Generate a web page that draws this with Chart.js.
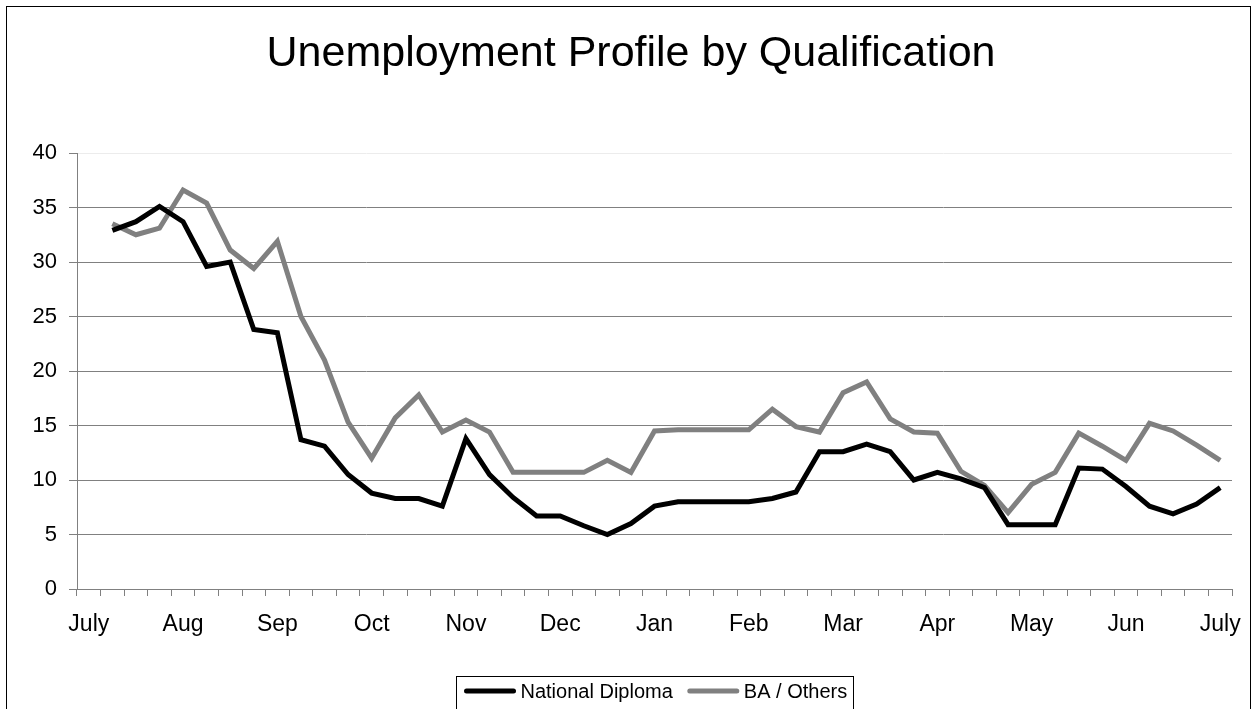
<!DOCTYPE html>
<html>
<head>
<meta charset="utf-8">
<script src="https://cdn.jsdelivr.net/npm/chart.js@4"></script>
<style>
  body { margin: 0; background: #fff; }
  #wrap { width: 1258px; height: 709px; position: relative; }
</style>
</head>
<body>
<div id="wrap"><canvas id="chart"></canvas></div>
<script>
// month labels sit on every 4th weekly slot
var months = ['July', 'Aug', 'Sep', 'Oct', 'Nov', 'Dec', 'Jan', 'Feb', 'Mar', 'Apr', 'May', 'Jun', 'July']
var yTicks = [0, 5, 10, 15, 20, 25, 30, 35, 40]
var seriesNames = ['National Diploma', 'BA / Others']

// first slot has no reading
var nationalDiploma = [null,
    32.9, 33.7, 35.1, 33.7, 29.6, 30.0, 23.8, 23.5, 13.7, 13.1, 10.5, 8.8,
    8.3, 8.3, 7.6, 13.8, 10.5, 8.4, 6.7, 6.7, 5.8, 5.0, 6.0, 7.6,
    8.0, 8.0, 8.0, 8.0, 8.3, 8.9, 12.6, 12.6, 13.3, 12.6, 10.0, 10.7,
    10.1, 9.3, 5.9, 5.9, 5.9, 11.1, 11.0, 9.4, 7.6, 6.9, 7.8, 9.3]
var baOthers = [null,
    33.5, 32.5, 33.1, 36.6, 35.4, 31.1, 29.4, 31.9, 25.0, 21.0, 15.3, 12.0,
    15.7, 17.8, 14.4, 15.5, 14.4, 10.7, 10.7, 10.7, 10.7, 11.8, 10.7, 14.5,
    14.6, 14.6, 14.6, 14.6, 16.5, 14.9, 14.4, 18.0, 19.0, 15.6, 14.4, 14.3,
    10.8, 9.5, 7.0, 9.6, 10.7, 14.3, 13.1, 11.8, 15.2, 14.5, 13.2, 11.8]

var colors = ['#000000', '#808080']

var labels = []
for (let i = 0; i < (months.length - 1) * 4 + 1; i++)
    labels.push(i % 4 == 0 ? months[i / 4] : '')

var fontFamily = "'Liberation Sans', Arial, sans-serif"

// outer frame + boxed legend under the plot, centred on the plot area
var frameLegend = {
    id: 'frameLegend',
    afterDraw(chart) {
        const ctx = chart.ctx
        const area = chart.chartArea
        ctx.save()
        ctx.strokeStyle = '#000'
        ctx.lineWidth = 1
        ctx.strokeRect(6.5, 6.5, 1244, 730)

        ctx.font = '20px ' + fontFamily
        const lineLen = 51
        let widths = seriesNames.map(n => ctx.measureText(n).width)
        let total = 8
        widths.forEach((w, i) => { total += lineLen + 5 + w + (i < widths.length - 1 ? 15 : 6) })
        let left = Math.round((area.left + area.right) / 2 - total / 2) + 0.5
        let top = 676.5
        ctx.strokeStyle = '#000'
        ctx.lineWidth = 1
        ctx.strokeRect(left, top, Math.round(total), 40)

        let x = left + 8
        const yMid = 691
        ctx.textBaseline = 'middle'
        ctx.fillStyle = '#000'
        seriesNames.forEach((n, i) => {
            ctx.beginPath()
            ctx.lineCap = 'round'
            ctx.lineWidth = 5
            ctx.strokeStyle = colors[i]
            ctx.moveTo(x + 2, yMid)
            ctx.lineTo(x + lineLen - 2, yMid)
            ctx.stroke()
            x += lineLen + 5
            ctx.fillText(n, x, yMid + 1)
            x += widths[i] + 15
        })
        ctx.restore()
    }
}

var canvas = document.getElementById('chart')
var chart = new Chart(canvas, {
    type: 'line',
    data: {
        labels: labels,
        datasets: [
            {
                label: seriesNames[0],
                data: nationalDiploma,
                borderColor: colors[0],
                backgroundColor: colors[0],
                borderWidth: 5,
                pointRadius: 0,
                tension: 0,
                borderJoinStyle: 'miter'
            },
            {
                label: seriesNames[1],
                data: baOthers,
                borderColor: colors[1],
                backgroundColor: colors[1],
                borderWidth: 5,
                pointRadius: 0,
                tension: 0,
                borderJoinStyle: 'miter'
            }
        ]
    },
    options: {
        responsive: true,
        maintainAspectRatio: false,
        animation: false,
        devicePixelRatio: 1,
        layout: { padding: { left: 30, right: 26, top: 0, bottom: 70 } },
        plugins: {
            legend: { display: false },
            tooltip: { enabled: false },
            title: {
                display: true,
                text: 'Unemployment Profile by Qualification',
                color: '#000',
                font: { family: fontFamily, size: 43, weight: 'normal' },
                padding: { top: 28, bottom: 73.4 }
            }
        },
        scales: {
            x: {
                offset: true,
                afterFit: s => { s.height = 50 },
                grid: {
                    offset: true,
                    drawOnChartArea: false,
                    drawTicks: true,
                    tickLength: 7,
                    color: '#808080'
                },
                border: { display: true, color: '#808080', width: 1 },
                ticks: {
                    autoSkip: false,
                    maxRotation: 0,
                    padding: 15,
                    color: '#000',
                    font: { family: fontFamily, size: 23 }
                }
            },
            y: {
                min: yTicks[0],
                max: yTicks[yTicks.length - 1],
                afterFit: s => { s.width = 47 },
                afterBuildTicks: s => { s.ticks = yTicks.map(v => ({ value: v })) },
                grid: {
                    color: c => c.tick && c.tick.value == 40 ? '#ececec' : '#808080',
                    tickColor: '#808080',
                    tickLength: 8,
                    lineWidth: 1
                },
                border: { display: true, color: '#808080', width: 1 },
                ticks: {
                    padding: 12,
                    color: '#000',
                    font: { family: fontFamily, size: 22 }
                }
            }
        }
    },
    plugins: [frameLegend]
})
</script>
</body>
</html>
